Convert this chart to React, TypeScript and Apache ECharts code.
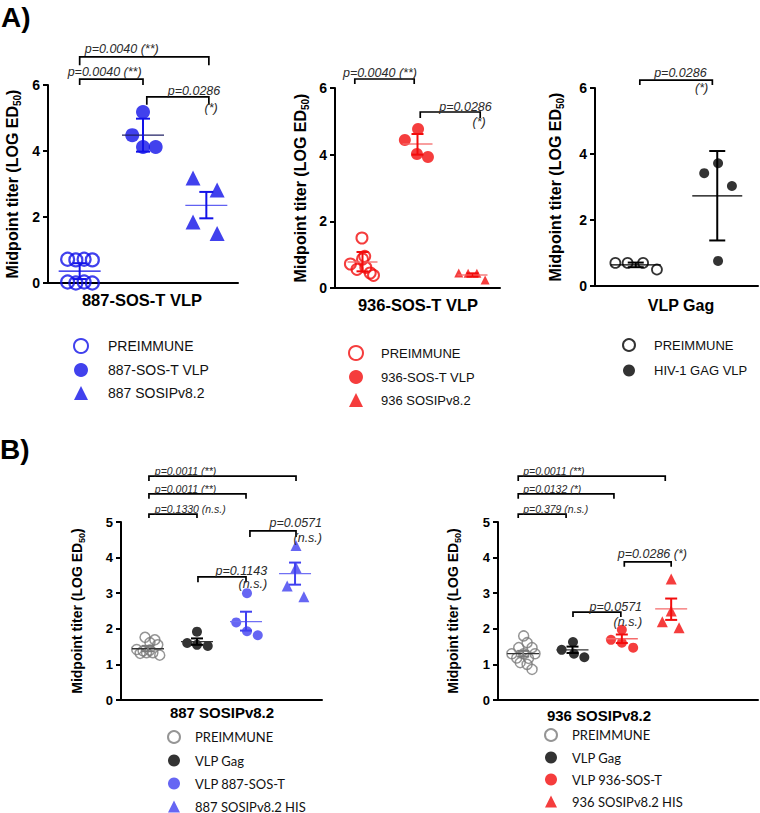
import React, { useEffect, useRef } from 'react';
import * as echarts from 'echarts';

const SANS = '"Liberation Sans", Arial, Helvetica, sans-serif';
const NARROW = 'Lato, "Liberation Sans", sans-serif';

const BLUE_A = '#1212e8';
const BLUE_A_LIGHT = '#6161f2';
const BLUE_B = '#4040f0';
const BLUE_B_LIGHT = '#7070f4';
const RED = '#f20c0c';
const RED_LIGHT = '#f56a6a';
const GRAY = '#7a7a7a';
const BLACK = '#000000';

// ===== Panel A1: 887-SOS-T VLP =====
const a1Labels = ['PREIMMUNE', '887-SOS-T VLP', '887 SOSIPv8.2'];
const a1PreY = [0.72, 0.7, 0.72, 0.7, 0.03, 0.0, 0.03, 0.0];
const a1PreDx = [-0.19, -0.06, 0.07, 0.2, -0.19, -0.06, 0.07, 0.2];
const a1VlpY = [5.18, 4.48, 4.12, 4.12];
const a1VlpDx = [0, -0.17, 0, 0.2];
const a1SosY = [3.18, 2.82, 1.85, 1.5];
const a1SosDx = [-0.21, 0.17, -0.21, 0.17];
// mean, low, high
const a1Stats = [[0.36, 0.12, 0.6], [4.48, 3.98, 4.98], [2.35, 1.96, 2.76]];

// ===== Panel A2: 936-SOS-T VLP =====
const a2Labels = ['PREIMMUNE', '936-SOS-T VLP', '936 SOSIPv8.2'];
const a2PreY = [1.5, 0.95, 0.87, 0.72, 0.56, 0.62, 0.45, 0.38];
const a2PreDx = [-0.01, 0.04, 0.0, -0.22, -0.1, 0.06, 0.14, 0.2];
const a2VlpY = [4.44, 4.77, 4.02, 3.93];
const a2VlpDx = [-0.23, 0.01, -0.01, 0.19];
const a2SosY = [0.45, 0.44, 0.44, 0.24];
const a2SosDx = [-0.25, -0.08, 0.08, 0.23];
const a2Stats = [[0.78, 0.5, 1.08], [4.32, 4.0, 4.62], [0.39, 0.34, 0.44]];

// ===== Panel A3: VLP Gag =====
const a3Labels = ['PREIMMUNE', 'HIV-1 GAG VLP'];
const a3PreY = [0.7, 0.7, 0.7, 0.5];
const a3PreDx = [-0.25, -0.1, 0.09, 0.26];
const a3GagY = [3.42, 3.72, 3.03, 0.76];
const a3GagDx = [-0.16, 0.01, 0.18, 0.01];
const a3Stats = [[0.64, 0.57, 0.71], [2.73, 1.38, 4.09]];

// ===== Panel B1: 887 SOSIPv8.2 =====
const b1Labels = ['PREIMMUNE', 'VLP Gag', 'VLP 887-SOS-T', '887 SOSIPv8.2 HIS'];
const b1PreY = [1.76, 1.69, 1.61, 1.55, 1.42, 1.38, 1.4, 1.31, 1.33, 1.26, 1.33];
const b1PreDx = [-0.06, 0.14, 0.04, 0.2, -0.23, -0.1, 0.04, -0.16, -0.03, 0.24, 0.1];
const b1GagY = [1.92, 1.6, 1.55, 1.52];
const b1GagDx = [0, -0.2, 0, 0.22];
const b1VlpY = [3.0, 2.18, 1.93, 1.82];
const b1VlpDx = [0.02, -0.2, 0.02, 0.24];
const b1SosY = [4.34, 3.72, 3.2, 2.9];
const b1SosDx = [0.02, 0.02, -0.16, 0.18];
const b1Stats = [[1.44, 1.37, 1.52], [1.64, 1.55, 1.73], [2.2, 1.95, 2.48], [3.55, 3.24, 3.86]];

// ===== Panel B2: 936 SOSIPv8.2 =====
const b2Labels = ['PREIMMUNE', 'VLP Gag', 'VLP 936-SOS-T', '936 SOSIPv8.2 HIS'];
const b2PreY = [1.8, 1.61, 1.47, 1.3, 1.3, 1.3, 1.18, 1.17, 1.05, 1.0, 0.86, 1.47];
const b2PreDx = [0.01, 0.08, -0.09, -0.23, 0.01, 0.24, -0.13, 0.11, -0.06, 0.08, 0.18, 0.18];
const b2GagY = [1.63, 1.41, 1.3, 1.2];
const b2GagDx = [0.01, -0.22, 0.03, 0.24];
const b2VlpY = [1.97, 1.69, 1.61, 1.47];
const b2VlpDx = [0, -0.22, 0, 0.23];
const b2SosY = [3.4, 2.5, 2.2, 2.03];
const b2SosDx = [0, 0, -0.18, 0.16];
const b2Stats = [[1.3, 1.22, 1.38], [1.41, 1.32, 1.5], [1.72, 1.6, 1.84], [2.56, 2.25, 2.85]];

// ===== Significance brackets (data coordinates) =====
const a1Brackets = [
  { x1: 1.0, x2: 3.04, y: 6.85, yEnd: 6.6, label: 'p=0.0040 (**)', lx: 1.08, ly: 7.09, align: 'left' },
  { x1: 1.0, x2: 2.0, y: 6.18, yEnd: 6.0, label: 'p=0.0040 (**)', lx: 0.81, ly: 6.39, align: 'left' },
  { x1: 2.06, x2: 3.04, y: 5.64, yEnd: 5.4, label: 'p=0.0286', lx: 3.22, ly: 5.82, align: 'right', label2: '(*)', l2x: 3.18, l2y: 5.3 },
];
const a2Brackets = [
  { x1: 0.86, x2: 1.94, y: 6.27, yEnd: 6.12, label: 'p=0.0040 (**)', lx: 1.99, ly: 6.45, align: 'right' },
  { x1: 2.05, x2: 3.14, y: 5.28, yEnd: 5.1, label: 'p=0.0286', lx: 3.35, ly: 5.43, align: 'right', label2: '(*)', l2x: 3.24, l2y: 4.98 },
];
const a3Brackets = [
  { x1: 1.05, x2: 1.94, y: 6.24, yEnd: 6.09, label: 'p=0.0286', lx: 1.87, ly: 6.45, align: 'right', label2: '(*)', l2x: 1.89, l2y: 6.0 },
];
const b1Brackets = [
  { x1: 1.02, x2: 4.02, y: 6.29, yEnd: 6.15, label: 'p=0.0011 (**)', lx: 1.14, ly: 6.43, align: 'left', small: true },
  { x1: 1.02, x2: 3.0, y: 5.79, yEnd: 5.65, label: 'p=0.0011 (**)', lx: 1.14, ly: 5.93, align: 'left', small: true },
  { x1: 1.02, x2: 2.0, y: 5.22, yEnd: 5.11, label: 'p=0.1330 (n.s.)', lx: 1.14, ly: 5.37, align: 'left', small: true },
  { x1: 3.08, x2: 4.02, y: 4.75, yEnd: 4.58, label: 'p=0.0571', lx: 4.55, ly: 4.97, align: 'right', label2: '(n.s.)', l2x: 4.55, l2y: 4.55 },
  { x1: 2.02, x2: 3.0, y: 3.46, yEnd: 3.31, label: 'p=0.1143', lx: 3.43, ly: 3.62, align: 'right', label2: '(n.s.)', l2x: 3.43, l2y: 3.26 },
];
const b2Brackets = [
  { x1: 0.9, x2: 3.88, y: 6.29, yEnd: 6.15, label: 'p=0.0011 (**)', lx: 1.0, ly: 6.43, align: 'left', small: true },
  { x1: 0.9, x2: 2.84, y: 5.79, yEnd: 5.65, label: 'p=0.0132 (*)', lx: 1.0, ly: 5.93, align: 'left', small: true },
  { x1: 0.9, x2: 1.87, y: 5.22, yEnd: 5.11, label: 'p=0.379 (n.s.)', lx: 1.0, ly: 5.37, align: 'left', small: true },
  { x1: 3.05, x2: 4.0, y: 3.88, yEnd: 3.74, label: 'p=0.0286 (*)', lx: 4.32, ly: 4.1, align: 'right' },
  { x1: 2.01, x2: 2.98, y: 2.47, yEnd: 2.33, label: 'p=0.0571', lx: 3.41, ly: 2.61, align: 'right', label2: '(n.s.)', l2x: 3.41, l2y: 2.19 },
];

type Group = {
  label: string; cat: number; ys: number[]; dx: number[]; stats: number[];
  symbol: string; size: number; open?: boolean; bw?: number; color: string; meanColor?: string;
};

const panels: any[] = [
  {
    id: 'A1', grid: { left: 48, top: 85, width: 190, height: 198 }, xMin: 0.5, xMax: 3.5, yMax: 6, yInt: 2,
    tickFont: 14, nameFont: 16, nameGap: 26, meanHalf: 21, capHalf: 7, brackets: a1Brackets, bracketFont: 12.5,
    legend: { left: 73, top: 338, icon: 14, gap: 9, pad: 15, font: 14, family: SANS },
    groups: [
      { label: a1Labels[0], cat: 1, ys: a1PreY, dx: a1PreDx, stats: a1Stats[0], symbol: 'circle', size: 13, open: true, bw: 2.2, color: BLUE_A },
      { label: a1Labels[1], cat: 2, ys: a1VlpY, dx: a1VlpDx, stats: a1Stats[1], symbol: 'circle', size: 14, color: BLUE_A, meanColor: '#222266' },
      { label: a1Labels[2], cat: 3, ys: a1SosY, dx: a1SosDx, stats: a1Stats[2], symbol: 'triangle', size: 15, color: BLUE_A, meanColor: BLUE_A_LIGHT },
    ] as Group[],
  },
  {
    id: 'A2', grid: { left: 335, top: 88, width: 165, height: 200 }, xMin: 0.5, xMax: 3.5, yMax: 6, yInt: 2,
    tickFont: 14, nameFont: 16, nameGap: 25, meanHalf: 15, capHalf: 6, brackets: a2Brackets, bracketFont: 12.5,
    legend: { left: 348, top: 345, icon: 14, gap: 9, pad: 13, font: 13, family: SANS },
    groups: [
      { label: a2Labels[0], cat: 1, ys: a2PreY, dx: a2PreDx, stats: a2Stats[0], symbol: 'circle', size: 11, open: true, bw: 2, color: RED, meanColor: RED_LIGHT },
      { label: a2Labels[1], cat: 2, ys: a2VlpY, dx: a2VlpDx, stats: a2Stats[1], symbol: 'circle', size: 12, color: RED, meanColor: RED_LIGHT },
      { label: a2Labels[2], cat: 3, ys: a2SosY, dx: a2SosDx, stats: a2Stats[2], symbol: 'triangle', size: 9, color: RED, meanColor: RED_LIGHT },
    ] as Group[],
  },
  {
    id: 'A3', grid: { left: 595, top: 88, width: 163, height: 198 }, xMin: 0.5, xMax: 2.5, yMax: 6, yInt: 2,
    tickFont: 14, nameFont: 16, nameGap: 30, meanHalf: 25, capHalf: 8, brackets: a3Brackets, bracketFont: 12.5,
    legend: { left: 622, top: 338, icon: 12, gap: 12, pad: 14, font: 13, family: SANS },
    groups: [
      { label: a3Labels[0], cat: 1, ys: a3PreY, dx: a3PreDx, stats: a3Stats[0], symbol: 'circle', size: 10, open: true, bw: 1.8, color: BLACK },
      { label: a3Labels[1], cat: 2, ys: a3GagY, dx: a3GagDx, stats: a3Stats[1], symbol: 'circle', size: 10, color: BLACK },
    ] as Group[],
  },
  {
    id: 'B1', grid: { left: 121, top: 522, width: 201, height: 178 }, xMin: 0.45, xMax: 4.55, yMax: 5, yInt: 1,
    tickFont: 13, nameFont: 14, nameGap: 35, meanHalf: 16, capHalf: 6, brackets: b1Brackets, bracketFont: 12.5,
    legend: { left: 167, top: 730, icon: 12, gap: 10, pad: 10, font: 13, family: NARROW },
    groups: [
      { label: b1Labels[0], cat: 1, ys: b1PreY, dx: b1PreDx, stats: b1Stats[0], symbol: 'circle', size: 10, open: true, bw: 1.5, color: GRAY, meanColor: '#333333' },
      { label: b1Labels[1], cat: 2, ys: b1GagY, dx: b1GagDx, stats: b1Stats[1], symbol: 'circle', size: 10, color: BLACK, meanColor: '#333333' },
      { label: b1Labels[2], cat: 3, ys: b1VlpY, dx: b1VlpDx, stats: b1Stats[2], symbol: 'circle', size: 10, color: BLUE_B, meanColor: BLUE_B_LIGHT },
      { label: b1Labels[3], cat: 4, ys: b1SosY, dx: b1SosDx, stats: b1Stats[3], symbol: 'triangle', size: 11, color: BLUE_B, meanColor: BLUE_B_LIGHT },
    ] as Group[],
  },
  {
    id: 'B2', grid: { left: 498, top: 522, width: 260, height: 178 }, xMin: 0.49, xMax: 5.76, yMax: 5, yInt: 1,
    tickFont: 13, nameFont: 14, nameGap: 36, meanHalf: 16, capHalf: 6, brackets: b2Brackets, bracketFont: 12.5,
    legend: { left: 544, top: 728, icon: 12, gap: 9, pad: 10, font: 13, family: NARROW },
    groups: [
      { label: b2Labels[0], cat: 1, ys: b2PreY, dx: b2PreDx, stats: b2Stats[0], symbol: 'circle', size: 10, open: true, bw: 1.5, color: GRAY, meanColor: '#333333' },
      { label: b2Labels[1], cat: 2, ys: b2GagY, dx: b2GagDx, stats: b2Stats[1], symbol: 'circle', size: 10, color: BLACK, meanColor: '#333333' },
      { label: b2Labels[2], cat: 3, ys: b2VlpY, dx: b2VlpDx, stats: b2Stats[2], symbol: 'circle', size: 10, color: RED, meanColor: RED_LIGHT },
      { label: b2Labels[3], cat: 4, ys: b2SosY, dx: b2SosDx, stats: b2Stats[3], symbol: 'triangle', size: 11, color: RED, meanColor: RED_LIGHT },
    ] as Group[],
  },
];

const panelTitles = [
  { text: 'A)', x: 1, y: 17, size: 28, align: 'left' },
  { text: 'B)', x: 0, y: 449, size: 28, align: 'left' },
  { text: '887-SOS-T VLP', x: 142, y: 300, size: 16.5, align: 'center' },
  { text: '936-SOS-T VLP', x: 418, y: 305, size: 16.5, align: 'center' },
  { text: 'VLP Gag', x: 681, y: 305, size: 16, align: 'center' },
  { text: '887 SOSIPv8.2', x: 222, y: 712, size: 15, align: 'center' },
  { text: '936 SOSIPv8.2', x: 599, y: 715, size: 15, align: 'center' },
];

function buildOption() {
  const grid: any[] = [];
  const xAxis: any[] = [];
  const yAxis: any[] = [];
  const series: any[] = [];
  const legend: any[] = [];

  panels.forEach((p, i) => {
    grid.push({ ...p.grid, containLabel: false });
    xAxis.push({
      type: 'value', gridIndex: i, min: p.xMin, max: p.xMax,
      axisLine: { show: true, onZero: false, lineStyle: { color: '#000', width: 2 } },
      axisTick: { show: false }, axisLabel: { show: false }, splitLine: { show: false },
    });
    yAxis.push({
      type: 'value', gridIndex: i, min: 0, max: p.yMax, interval: p.yInt,
      axisLine: { show: true, onZero: false, lineStyle: { color: '#000', width: 2 } },
      axisTick: { show: true, length: 5, lineStyle: { color: '#000', width: 2 } },
      axisLabel: { color: '#000', fontWeight: 'bold', fontSize: p.tickFont, fontFamily: SANS, margin: 8 },
      splitLine: { show: false },
      name: '{a|Midpoint titer (LOG ED}{s|50}{a|)}',
      nameLocation: 'middle', nameRotate: 90, nameGap: p.nameGap,
      nameTextStyle: {
        rich: {
          a: { fontSize: p.nameFont, fontWeight: 'bold', fontFamily: SANS, color: '#000', lineHeight: p.nameFont + 4, verticalAlign: 'middle' },
          s: { fontSize: Math.round(p.nameFont * 0.65), fontWeight: 'bold', fontFamily: SANS, color: '#000', lineHeight: p.nameFont + 4, verticalAlign: 'bottom' },
        },
      },
    });

    const groups: Group[] = p.groups;
    groups.forEach((g) => {
      series.push({
        type: 'scatter', name: `${p.id}|${g.label}`, xAxisIndex: i, yAxisIndex: i,
        data: g.ys.map((y, k) => [g.cat + g.dx[k], y]),
        symbol: g.symbol, symbolSize: g.size, z: 2,
        itemStyle: g.open
          ? { color: 'rgba(255,255,255,0)', borderColor: g.color, borderWidth: g.bw }
          : { color: g.color },
        emphasis: { disabled: true },
      });
    });

    // mean + error bars
    series.push({
      type: 'custom', xAxisIndex: i, yAxisIndex: i, z: 3, silent: true, clip: false,
      data: groups.map((g) => [g.cat, g.stats[0]]),
      renderItem: (params: any, api: any) => {
        const g = groups[params.dataIndex];
        const c = api.coord([g.cat, g.stats[0]]);
        const lo = api.coord([g.cat, g.stats[1]]);
        const hi = api.coord([g.cat, g.stats[2]]);
        const hw = p.meanHalf;
        const cw = p.capHalf;
        const col = g.color;
        return {
          type: 'group',
          children: [
            { type: 'line', shape: { x1: c[0] - hw, y1: c[1], x2: c[0] + hw, y2: c[1] }, style: { stroke: g.meanColor || col, lineWidth: 1.3 } },
            { type: 'line', shape: { x1: lo[0], y1: lo[1], x2: hi[0], y2: hi[1] }, style: { stroke: col, lineWidth: 2 } },
            { type: 'line', shape: { x1: lo[0] - cw, y1: lo[1], x2: lo[0] + cw, y2: lo[1] }, style: { stroke: col, lineWidth: 2 } },
            { type: 'line', shape: { x1: hi[0] - cw, y1: hi[1], x2: hi[0] + cw, y2: hi[1] }, style: { stroke: col, lineWidth: 2 } },
          ],
        };
      },
    });

    // significance brackets
    const br: any[] = p.brackets;
    series.push({
      type: 'custom', xAxisIndex: i, yAxisIndex: i, z: 4, silent: true, clip: false,
      data: br.map((b) => [b.x1, b.y]),
      renderItem: (params: any, api: any) => {
        const b = br[params.dataIndex];
        const e1 = api.coord([b.x1, b.yEnd]);
        const p1 = api.coord([b.x1, b.y]);
        const p2 = api.coord([b.x2, b.y]);
        const e2 = api.coord([b.x2, b.yEnd]);
        const fs = b.small ? 10.5 : p.bracketFont;
        const t = api.coord([b.lx, b.ly]);
        const children: any[] = [
          { type: 'polyline', shape: { points: [e1, p1, p2, e2] }, style: { stroke: '#000', lineWidth: 1.7, fill: null } },
          { type: 'text', x: t[0], y: t[1], style: { text: b.label, align: b.align, verticalAlign: 'middle', font: `italic ${fs}px ${SANS}`, fill: '#2a2a2a' } },
        ];
        if (b.label2) {
          const t2 = api.coord([b.l2x, b.l2y]);
          children.push({ type: 'text', x: t2[0], y: t2[1], style: { text: b.label2, align: 'right', verticalAlign: 'middle', font: `italic ${fs}px ${SANS}`, fill: '#2a2a2a' } });
        }
        return { type: 'group', children };
      },
    });

    legend.push({
      data: groups.map((g) => `${p.id}|${g.label}`),
      orient: 'vertical', left: p.legend.left, top: p.legend.top, padding: 0,
      width: 200, height: 120,
      itemWidth: p.legend.icon, itemHeight: p.legend.icon, itemGap: p.legend.gap,
      symbolKeepAspect: true,
      selectedMode: false,
      formatter: (name: string) => name.split('|')[1],
      textStyle: {
        fontSize: p.legend.font, fontFamily: p.legend.family, color: '#111',
        lineHeight: p.legend.icon, padding: [0, 0, 0, p.legend.pad],
      },
    });
  });

  const graphic = panelTitles.map((t) => ({
    type: 'text', x: t.x, y: t.y, silent: true,
    style: { text: t.text, align: t.align, verticalAlign: 'middle', font: `bold ${t.size}px ${SANS}`, fill: '#000' },
  }));

  return { animation: false, backgroundColor: '#fff', grid, xAxis, yAxis, series, legend, graphic };
}

export default function App() {
  const ref = useRef<HTMLDivElement>(null);
  useEffect(() => {
    if (!ref.current) return;
    const chart = echarts.init(ref.current, null, { renderer: 'svg' });
    chart.setOption(buildOption() as any);
    return () => chart.dispose();
  }, []);
  return <div ref={ref} style={{ position: 'absolute', left: 0, top: 0, width: 760, height: 813 }} />;
}
